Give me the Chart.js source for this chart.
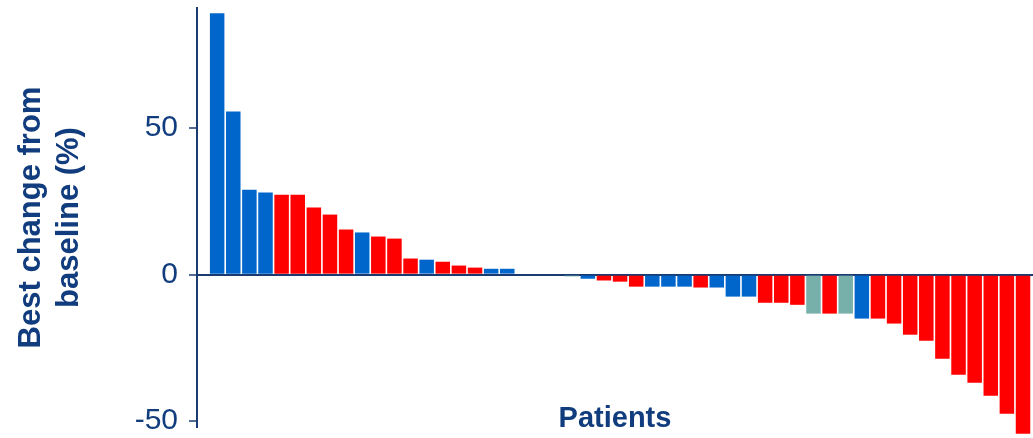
<!DOCTYPE html>
<html>
<head>
<meta charset="utf-8">
<script src="https://cdn.jsdelivr.net/npm/chart.js@4/dist/chart.umd.min.js"></script>
<style>
  html, body { margin: 0; padding: 0; background: #ffffff; }
  #c { display: block; }
</style>
</head>
<body>
<canvas id="c" width="1033" height="438"></canvas>
<script>
// ---- data ----
const patients = Array.from({length: 51}, (_, i) => 'P' + (i + 1));
const bestChange = [
  89.2, 55.7, 29.0, 28.0, 27.3, 27.3, 22.9, 20.5, 15.4, 14.4,
  13.0, 12.3, 5.5, 5.1, 4.4, 3.1, 2.4, 2.0, 2.0, 0,
  0, 0, -0.6, -1.4, -2.0, -2.4, -4.1, -4.1, -4.1, -4.1,
  -4.4, -4.4, -7.5, -7.5, -9.6, -9.6, -10.3, -13.3, -13.3, -13.3,
  -15.0, -15.0, -16.7, -20.5, -22.6, -28.7, -34.2, -36.9, -41.3, -47.5,
  -54.3
];
const groups = [
  'B','B','B','B','R','R','R','R','R','B',
  'R','R','R','B','R','R','R','B','B','B',
  'B','B','T','B','R','R','R','B','B','B',
  'R','B','B','B','R','R','R','T','R','T',
  'B','R','R','R','R','R','R','R','R','R',
  'R'
];
const groupColors = { B: '#0066cc', R: '#ff0000', T: '#77b0aa' };
const yTicks = [-50, 0, 50];
const yMin = -52, yMax = 91;
const xMin = -1.25, xMax = 50.62;
const yTitle = ['Best change from', 'baseline (%)'];
const xTitle = 'Patients';

const NAVY = '#113d7e';
const AXIS = '#1a3a72';
const FONT = '"Liberation Sans", Arial, sans-serif';

const points = bestChange.map((v, i) => ({ x: i, y: v }));

const patientsTitle = {
  id: 'patientsTitle',
  afterDraw(chart) {
    const { ctx, chartArea } = chart;
    ctx.save();
    ctx.font = 'bold 29px ' + FONT;
    ctx.fillStyle = NAVY;
    ctx.textAlign = 'center';
    ctx.textBaseline = 'alphabetic';
    ctx.fillText(xTitle, (chartArea.left + chartArea.right) / 2, 427);
    ctx.restore();
  }
};

new Chart(document.getElementById('c'), {
  type: 'bar',
  data: {
    labels: patients,
    datasets: [{
      data: points,
      backgroundColor: groups.map(g => groupColors[g]),
      borderWidth: 0,
      barPercentage: 0.9,
      categoryPercentage: 1.0,
      clip: false
    }]
  },
  options: {
    responsive: false,
    animation: false,
    layout: { padding: { top: 8, bottom: 11, left: 0, right: 0 } },
    plugins: { legend: { display: false }, tooltip: { enabled: false }, title: { display: false } },
    scales: {
      x: {
        type: 'linear',
        min: xMin,
        max: xMax,
        offset: false,
        grid: { offset: false },
        display: false
      },
      y: {
        min: yMin,
        max: yMax,
        afterBuildTicks: s => { s.ticks = yTicks.map(v => ({ value: v })); },
        afterFit: s => { s.width = 197; s.paddingTop = 0; s.paddingBottom = 0; },
        border: { display: true, color: AXIS, width: 2 },
        grid: {
          color: c => (c.tick && c.tick.value === 0) ? AXIS : 'rgba(0,0,0,0)',
          lineWidth: 2,
          drawTicks: true,
          tickLength: 8,
          tickColor: AXIS,
          tickWidth: 1.5
        },
        ticks: { color: NAVY, font: { family: FONT, size: 30 }, padding: 11 },
        title: {
          display: true,
          text: yTitle,
          color: NAVY,
          font: { family: FONT, size: 31, weight: 'bold', lineHeight: 1.22 },
          padding: { top: 13, bottom: 0 }
        }
      }
    }
  },
  plugins: [patientsTitle]
});
</script>
</body>
</html>
